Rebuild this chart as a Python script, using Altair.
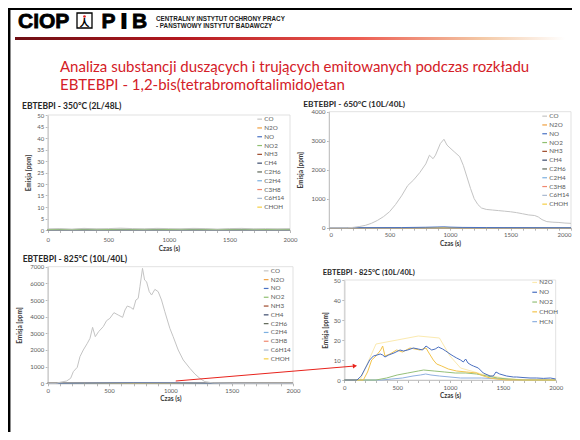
import altair as alt
import pandas as pd

W, H = 564, 424  # canvas (page margin 8px -> image coords = chart coords + 8)

# ---------------- data ----------------
GASES_A = ["CO", "N2O", "NO", "NO2", "NH3", "CH4", "C2H6", "C2H4", "C3H8", "C6H14", "CHOH"]
COLORS_A = ["#c4c4c4", "#f0a040", "#4a72c4", "#8fbf70", "#9e4a2a", "#3b4a6b",
            "#5e6657", "#7cb0e0", "#f08870", "#a8b8d0", "#f5cf45"]
GASES_B = ["N2O", "NO", "NO2", "CHOH", "HCN"]
COLORS_B = ["#fbeab0", "#4a6fc0", "#95c07a", "#f3c44c", "#8fb0e0"]

X_TICKS = [0, 100, 200, 300, 400, 500, 600, 700, 800, 900, 1000, 1100, 1200,
           1300, 1400, 1500, 1600, 1700, 1800, 1900, 2000]
Y1_TICKS = [0, 5, 10, 15, 20, 25, 30, 35, 40, 45, 50]
Y2_TICKS = [0, 1000, 2000, 3000, 4000]
Y3_TICKS = [0, 1000, 2000, 3000, 4000, 5000, 6000, 7000]
Y4_TICKS = [0, 10, 20, 30, 40, 50]

# panel 1: 350 C -- everything close to zero
T1 = [0, 100, 200, 300, 400, 500, 600, 700, 800, 900, 1000, 1100, 1200, 1300,
      1400, 1500, 1600, 1700, 1800, 1900, 2000]
P1_CO = [0.5, 0.6, 0.4, 0.7, 0.5, 0.6, 0.8, 0.6, 0.5, 0.7, 0.6, 0.5, 0.7, 0.6,
         0.4, 0.6, 0.7, 0.5, 0.6, 0.5, 0.6]
P1_NO2 = [0.2, 0.3, 0.2, 0.4, 0.3, 0.2, 0.4, 0.3, 0.3, 0.4, 0.2, 0.3, 0.4, 0.3,
          0.2, 0.3, 0.4, 0.3, 0.2, 0.3, 0.3]
P1_ZERO = [0, 0, 0, 0, 0, 0, 0, 0, 0, 0, 0, 0, 0, 0, 0, 0, 0, 0, 0, 0, 0]

# panel 2: 650 C
T2_CO = [0, 150, 200, 250, 300, 350, 400, 450, 500, 550, 600, 650, 700, 750, 800,
         830, 860, 880, 920, 950, 975, 1000, 1040, 1080, 1110, 1140, 1170, 1200,
         1230, 1260, 1300, 1350, 1400, 1450, 1500, 1550, 1600, 1650, 1700, 1730,
         1760, 1800, 1850, 1900, 1950, 2000]
P2_CO = [0, 0, 10, 40, 80, 150, 250, 380, 550, 800, 1100, 1450, 1650, 1900, 2200,
         2500, 2380, 2500, 2900, 3050, 2850, 2750, 2600, 2450, 2150, 1750, 1350,
         1000, 800, 680, 630, 610, 590, 570, 550, 520, 480, 440, 420, 370, 280,
         210, 190, 180, 160, 150]
T2_NO = [0, 600, 800, 900, 950, 1000, 1100, 1300, 2000]
P2_NO = [0, 5, 15, 25, 30, 20, 10, 5, 0]
T_FLAT = [0, 2000]
V_FLAT = [0, 0]

# panel 3: 825 C
T3_CO = [0, 73, 100, 155, 187, 209, 241, 263, 290, 323, 345, 366, 388, 415, 453,
         480, 507, 540, 575, 611, 630, 649, 676, 698, 719, 738, 752, 773, 790, 806,
         828, 847, 874, 901, 928, 955, 996, 1023, 1064, 1105, 1159, 1200, 1240,
         1281, 1349, 1500, 2000]
P3_CO = [0, 0, 60, 140, 300, 700, 960, 1600, 2000, 2400, 2700, 3360, 2800, 3100,
         3400, 3760, 3900, 4240, 4100, 3960, 4400, 4640, 4560, 4440, 5000, 5100,
         5800, 6900, 6200, 6100, 5500, 5300, 5640, 5500, 5000, 4300, 3300, 2800,
         2000, 1400, 900, 560, 300, 100, 20, 0, 0]
T3_NO = [0, 300, 700, 1000, 1300, 2000]
P3_NO = [0, 10, 25, 20, 5, 0]

# panel 4: 825 C, zoom of the minor species
T4_N2O = [0, 150, 300, 500, 700, 900, 1000, 1100, 1300, 1500, 1700, 2000]
P4_N2O = [0, 0, 18, 20, 22, 21, 12, 6, 3, 1, 0, 0]
T4_NO = [0, 120, 160, 200, 240, 275, 310, 340, 363, 385, 420, 470, 527, 560, 600,
         653, 700, 740, 773, 800, 827, 860, 890, 930, 960, 1000, 1030, 1063, 1100,
         1126, 1148, 1170, 1200, 1221, 1268, 1315, 1379, 1410, 1435, 1470, 1536,
         1600, 1631, 1700, 1757, 1820, 1883, 1950, 2000]
P4_NO = [0, 0, 2, 6, 10, 12, 12.5, 13, 12.5, 11.5, 12.5, 13.5, 15, 14.5, 15, 16,
         15.5, 15, 17, 16, 15, 15.5, 16.5, 15.5, 14.5, 13, 12, 11, 10, 9, 10.5,
         8.5, 7.5, 7, 6, 3.5, 2, 2, 4, 3, 2, 1.5, 1.5, 1.2, 1, 1, 0.8, 1, 0.5]
T4_NO2 = [0, 300, 400, 500, 600, 700, 750, 850, 950, 1050, 1150, 1250, 1350, 1450,
          1550, 1700, 2000]
P4_NO2 = [0, 0, 1, 2.5, 3.5, 4.5, 5, 4.5, 4, 3.5, 3.5, 3, 2, 1, 0.5, 0, 0]
T4_CHOH = [0, 180, 220, 259, 300, 344, 363, 385, 432, 495, 550, 622, 716, 773, 795,
           842, 874, 921, 984, 1063, 1158, 1252, 1316, 1379, 1440, 1536, 2000]
P4_CHOH = [0, 0, 4, 10, 12, 15, 17, 12, 13, 15, 14, 16, 15, 16, 14, 10, 8, 7, 5.5,
           4.5, 4, 3.5, 2, 1, 0.5, 0, 0]
T4_HCN = [0, 350, 450, 550, 650, 720, 770, 820, 900, 1000, 1100, 1300, 1500, 1600, 2000]
P4_HCN = [0, 0, 0.5, 1, 2, 2.5, 3, 2.5, 2, 1.5, 1, 1, 0.5, 0, 0]

# red arrow (in the data space of panel 3)
ARROW_T = [1044, 2505]
ARROW_V = [138, 1039]


def long_df(series):
    rows = []
    for gas, (ts, vs) in series.items():
        for t, v in zip(ts, vs):
            rows.append({"gas": gas, "t": t, "v": v})
    return pd.DataFrame(rows)


df1 = long_df({
    "N2O": (T1, P1_ZERO), "NH3": (T1, P1_ZERO), "CH4": (T1, P1_ZERO),
    "C2H6": (T1, P1_ZERO), "C2H4": (T1, P1_ZERO), "C3H8": (T1, P1_ZERO),
    "C6H14": (T1, P1_ZERO), "CHOH": (T1, P1_ZERO), "NO": (T1, P1_ZERO),
    "NO2": (T1, P1_NO2), "CO": (T1, P1_CO),
})
df2 = long_df({
    "N2O": (T_FLAT, V_FLAT), "NO2": (T_FLAT, V_FLAT), "NH3": (T_FLAT, V_FLAT),
    "CH4": (T_FLAT, V_FLAT), "C2H6": (T_FLAT, V_FLAT), "C2H4": (T_FLAT, V_FLAT),
    "C3H8": (T_FLAT, V_FLAT), "C6H14": (T_FLAT, V_FLAT), "CHOH": (T_FLAT, V_FLAT),
    "NO": (T2_NO, P2_NO), "CO": (T2_CO, P2_CO),
})
df3 = long_df({
    "N2O": (T_FLAT, V_FLAT), "NO2": (T_FLAT, V_FLAT), "NH3": (T_FLAT, V_FLAT),
    "CH4": (T_FLAT, V_FLAT), "C2H6": (T_FLAT, V_FLAT), "C2H4": (T_FLAT, V_FLAT),
    "C3H8": (T_FLAT, V_FLAT), "C6H14": (T_FLAT, V_FLAT), "CHOH": (T_FLAT, V_FLAT),
    "NO": (T3_NO, P3_NO), "CO": (T3_CO, P3_CO),
})
df4 = long_df({
    "N2O": (T4_N2O, P4_N2O), "HCN": (T4_HCN, P4_HCN), "NO2": (T4_NO2, P4_NO2),
    "CHOH": (T4_CHOH, P4_CHOH), "NO": (T4_NO, P4_NO),
})
arrow_df = pd.DataFrame({"t": [ARROW_T[0]], "t2": [ARROW_T[1]],
                         "v": [ARROW_V[0]], "v2": [ARROW_V[1]]})

ONE = alt.Data(values=[{}])
AX = dict(domainColor="#a6a6a6", domainWidth=0.8, tickColor="#a6a6a6", tickWidth=0.8,
          tickSize=2.5, labelColor="#595959", labelFont="Lato", labelFontSize=6,
          labelOverlap=False, titleFont="Lato", titleFontSize=6.5,
          titleColor="#3a3a3a", titleFontWeight="bold", grid=False, format="d")


def scales(ymax, xr, yr):
    xs = alt.Scale(domain=[0, 2000], range=xr, nice=False, zero=False)
    ys = alt.Scale(domain=[0, ymax], range=yr, nice=False, zero=False)
    return xs, ys


def panel(df, gases, colors, ymax, yticks, xr, yr, leg, row_pad, ytp, flush=False,
          xlp=1.5, xtp=2.5):
    xs, ys = scales(ymax, xr, yr)
    x_axis = alt.Axis(orient="bottom", offset=yr[0] - H, values=X_TICKS,
                      labelExpr="datum.value % 500 === 0 ? datum.label : ''",
                      labelFlush=flush, title="Czas (s)", labelPadding=xlp,
                      titlePadding=xtp, **AX)
    y_axis = alt.Axis(orient="left", offset=-xr[0], values=yticks, labelPadding=1.5,
                      title="Emisja [ppm]", titlePadding=ytp, **AX)
    frame = alt.Chart(ONE).mark_rect(fillOpacity=0, stroke="#d9d9d9", strokeWidth=0.8).encode(
        x=alt.XDatum(0, scale=xs, axis=None), x2=alt.X2Datum(2000),
        y=alt.YDatum(0, scale=ys, axis=None), y2=alt.Y2Datum(ymax))
    lines = alt.Chart(df).mark_line(strokeWidth=1).encode(
        x=alt.X("t:Q", scale=xs, axis=x_axis),
        y=alt.Y("v:Q", scale=ys, axis=y_axis),
        color=alt.Color("gas:N", scale=alt.Scale(domain=gases, range=colors),
                        legend=alt.Legend(orient="none", legendX=leg[0], legendY=leg[1],
                                          direction="vertical", title=None,
                                          symbolType="stroke", symbolSize=22,
                                          symbolStrokeWidth=1.2, labelFont="Lato",
                                          labelFontSize=6.3, labelColor="#595959",
                                          labelOffset=1.5, rowPadding=row_pad, padding=0)),
    )
    return [frame, lines]


def txt(text, x, y, size, color="#000000", weight="normal", font="Lato",
        align="left", baseline="middle", **kw):
    return alt.Chart(ONE).mark_text(text=text, font=font, fontSize=size, fontWeight=weight,
                                    color=color, align=align, baseline=baseline, **kw).encode(
        x=alt.value(x), y=alt.value(y))


P3_XR, P3_YR = [39.7, 285], [375.3, 258.7]
axs, ays = scales(7000, P3_XR, P3_YR)
arrow = alt.Chart(arrow_df).mark_rule(color="#e8231c", strokeWidth=1).encode(
    x=alt.X("t:Q", scale=axs, axis=None), x2="t2:Q",
    y=alt.Y("v:Q", scale=ays, axis=None), y2="v2:Q")
axs2, ays2 = scales(7000, P3_XR, P3_YR)
arrow_head = alt.Chart(arrow_df).mark_point(shape="triangle-right", filled=True, size=24,
                                            angle=355, color="#e8231c", opacity=1).encode(
    x=alt.X("t2:Q", scale=axs2, axis=None), y=alt.Y("v2:Q", scale=ays2, axis=None))

p1 = panel(df1, GASES_A, COLORS_A, 50, Y1_TICKS, [39.7, 282], [222, 107], (248.5, 108), 1.8, 5,
           xlp=4, xtp=2.5)
p2 = panel(df2, GASES_A, COLORS_A, 4000, Y2_TICKS, [321, 563], [219.7, 103.7], (533.5, 105), 1.8, 8,
           flush=True)
p3 = panel(df3, GASES_A, COLORS_A, 7000, Y3_TICKS, P3_XR, P3_YR, (255, 259.7), 1.8, 7)
p4 = panel(df4, GASES_B, COLORS_B, 50, Y4_TICKS, [336.3, 547.7], [372, 272], (523.5, 271.3), 2.8, 5)

gradient = alt.Gradient(gradient="linear", x1=0, x2=1, y1=0, y2=0, stops=[
    alt.GradientStop(color="#6e0f14", offset=0),
    alt.GradientStop(color="#b3181f", offset=0.3),
    alt.GradientStop(color="#ec5a50", offset=0.62),
    alt.GradientStop(color="#f4c9a6", offset=0.85),
    alt.GradientStop(color="#ffffff", offset=1),
])

deco = [
    alt.Chart(ONE).mark_rule(color="#000000", strokeWidth=2).encode(
        x=alt.value(0), x2=alt.value(W), y=alt.value(1)),
    alt.Chart(ONE).mark_rule(color="#000000", strokeWidth=2.5).encode(
        x=alt.value(1.2), y=alt.value(0), y2=alt.value(H)),
    alt.Chart(ONE).mark_rect(color=gradient).encode(
        x=alt.value(7), x2=alt.value(557), y=alt.value(29), y2=alt.value(32)),
    txt("CIOP", 10, 20, 21, weight="bold", font="Liberation Sans", baseline="alphabetic",
        stroke="#000000", strokeWidth=0.8),
    alt.Chart(ONE).mark_rect(fillOpacity=0, stroke="#000000", strokeWidth=1.3).encode(
        x=alt.value(69), x2=alt.value(84), y=alt.value(5), y2=alt.value(20)),
    txt("人", 76.5, 15.5, 10, weight="bold", font="Noto Sans CJK SC", align="center"),
    alt.Chart(ONE).mark_circle(color="#e02020", size=7, opacity=1).encode(
        x=alt.value(76.5), y=alt.value(8.5)),
    txt("P", 100.5, 20, 21, weight="bold", font="Liberation Sans", align="center",
        baseline="alphabetic", stroke="#000000", strokeWidth=0.8),
    txt("I", 116, 20, 21, weight="bold", font="Liberation Sans", align="center",
        baseline="alphabetic", stroke="#000000", strokeWidth=1.8),
    txt("B", 131.5, 20, 21, weight="bold", font="Liberation Sans", align="center",
        baseline="alphabetic", stroke="#000000", strokeWidth=0.8),
    txt("CENTRALNY INSTYTUT OCHRONY PRACY", 148, 11, 6.3, weight="bold",
        font="Liberation Sans", color="#1a1a1a"),
    txt("- PAŃSTWOWY INSTYTUT BADAWCZY", 148, 17.5, 6.3, weight="bold",
        font="Liberation Sans", color="#1a1a1a"),
    txt("Analiza substancji duszących i trujących emitowanych podczas rozkładu",
        52, 59, 15, color="#d42027"),
    txt("EBTEBPI - 1,2-bis(tetrabromoftalimido)etan", 52, 76.5, 15, color="#d42027"),
    txt("EBTEBPI - 350°C (2L/48L)", 14, 98, 8.5, weight="bold", color="#262626"),
    txt("EBTEBPI - 650°C (10L/40L)", 295.3, 96.5, 8.3, weight="bold", color="#262626"),
    txt("EBTEBPI - 825°C (10L/40L)", 14.7, 251.3, 8.5, weight="bold", color="#262626"),
    txt("EBTEBPI - 825°C (10L/40L)", 314.7, 265.3, 7.5, weight="bold", color="#262626"),
]

chart = alt.layer(*deco, *p1, *p2, *p4, *p3, arrow, arrow_head).resolve_scale(
    x="independent", y="independent", color="independent"
).properties(
    width=W, height=H, autosize=alt.AutoSizeParams(type="none"), padding=0
).configure_view(stroke=None)

chart.save("out.html", embed_options={"renderer": "svg", "actions": False})
